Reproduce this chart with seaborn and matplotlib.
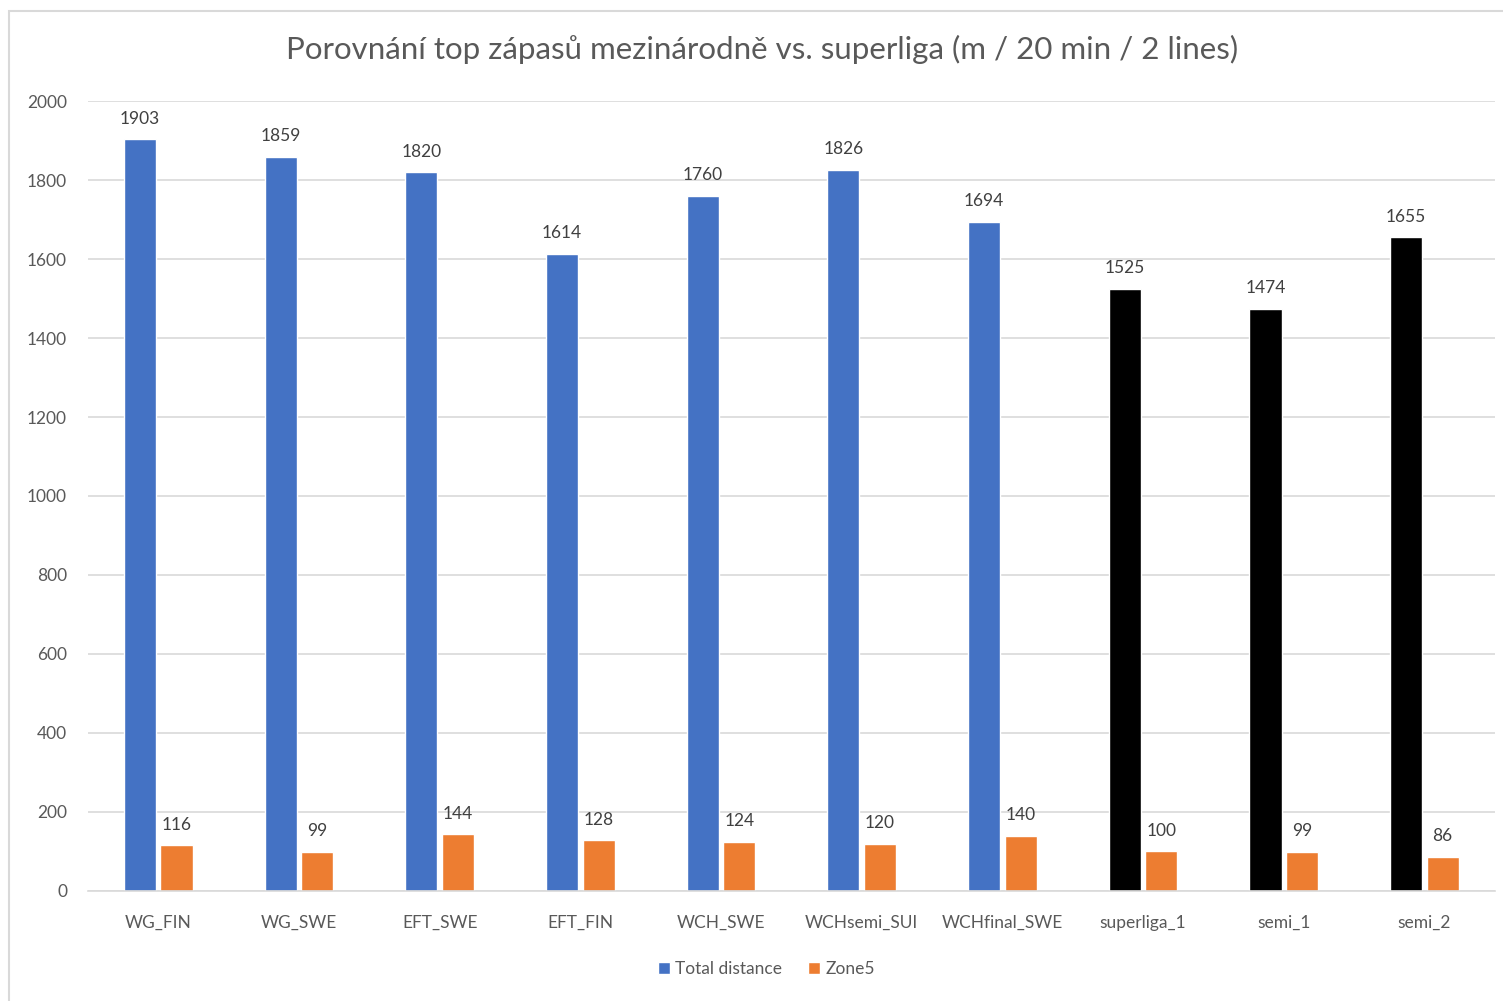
import matplotlib
matplotlib.use("Agg")
import matplotlib.pyplot as plt
import seaborn as sns
import pandas as pd
from matplotlib.patches import Rectangle

zapasy = ["WG_FIN", "WG_SWE", "EFT_SWE", "EFT_FIN", "WCH_SWE", "WCHsemi_SUI",
          "WCHfinal_SWE", "superliga_1", "semi_1", "semi_2"]
total_distance = [1903, 1859, 1820, 1614, 1760, 1826, 1694, 1525, 1474, 1655]
zone5 = [116, 99, 144, 128, 124, 120, 140, 100, 99, 86]
superliga = ["superliga_1", "semi_1", "semi_2"]

df = pd.DataFrame({
    "zapas": zapasy * 2,
    "metrika": ["Total distance"] * len(zapasy) + ["Zone5"] * len(zapasy),
    "hodnota": total_distance + zone5,
})

sns.set_theme(style="white")
plt.rcParams["font.family"] = ["Lato", "DejaVu Sans"]

fig = plt.figure(figsize=(15.03, 10.01), dpi=100)
ax = fig.add_axes([0.0585, 0.110, 0.936, 0.789])

sns.barplot(data=df, x="zapas", y="hodnota", hue="metrika",
            palette={"Total distance": "#4472C4", "Zone5": "#ED7D31"},
            saturation=1, width=0.52, gap=0.12, ax=ax, legend=True)

# superliga zapasy maji cerne sloupce
for patch, zapas in zip(ax.containers[0], zapasy):
    if zapas in superliga:
        patch.set_facecolor("black")

for cont in ax.containers:
    ax.bar_label(cont, fmt="%d", padding=9, fontsize=12.5, color="#404040")

ax.set_ylim(0, 2000)
ax.set_yticks(range(0, 2001, 200))
ax.yaxis.grid(True, color="#d9d9d9", linewidth=1.2)
ax.set_axisbelow(True)
ax.set_xlabel("")
ax.set_ylabel("")
for s in ["top", "right", "left"]:
    ax.spines[s].set_visible(False)
ax.spines["bottom"].set_color("#d9d9d9")
ax.spines["bottom"].set_linewidth(1.2)
ax.tick_params(axis="both", colors="#595959", labelsize=12.5, length=0)
ax.tick_params(axis="x", pad=17)
ax.tick_params(axis="y", pad=15)

handles, labels = ax.get_legend_handles_labels()
ax.get_legend().remove()
fig.legend(handles, labels, loc="center", bbox_to_anchor=(0.51, 0.032), ncol=2,
           frameon=False, fontsize=12.5, handlelength=0.7, handleheight=0.7,
           handletextpad=0.3, columnspacing=1.5, labelcolor="#595959")

fig.text(0.507, 0.951, "Porovnání top zápasů mezinárodně vs. superliga (m / 20 min / 2 lines)",
         ha="center", va="center", fontsize=22.5, color="#595959")

fig.patches.append(Rectangle((0.006, -0.02), 1.1, 1.009, transform=fig.transFigure,
                             fill=False, edgecolor="#d9d9d9", linewidth=1.5))

fig.savefig("out.png", dpi=100)
